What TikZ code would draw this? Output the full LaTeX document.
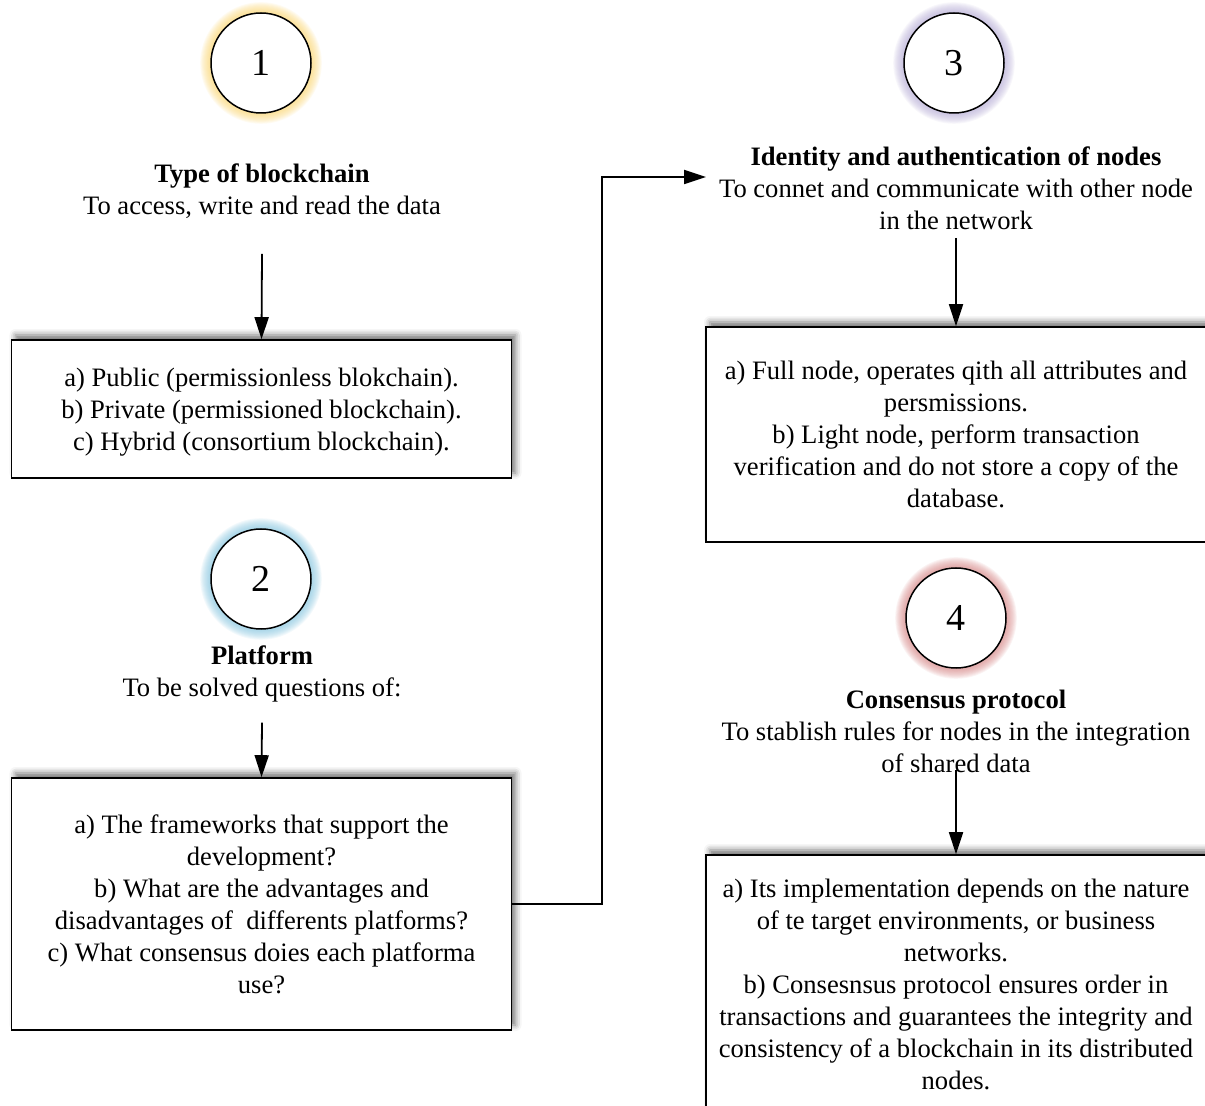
\documentclass[tikz,border=0pt]{standalone}
\usepackage{fontspec}
\setmainfont{Liberation Serif}
\usetikzlibrary{arrows.meta,shadows.blur}

\begin{document}
\begin{tikzpicture}[x=0.5pt,y=-0.5pt,
  every node/.style={font=\fontsize{13.3}{16}\selectfont},
  stepcirc/.style={circle, draw, line width=0.75pt, fill=white, minimum size=50pt,
    inner sep=0pt, font=\fontsize{19}{22}\selectfont},
  head/.style={align=center, inner sep=0pt},
  infobox/.style={draw, line width=0.8pt, fill=white, align=center, inner sep=0pt,
    minimum width=250pt,
    blur shadow={shadow xshift=2pt, shadow yshift=2.5pt, shadow blur radius=3pt, shadow opacity=55}},
  arr/.style={-{Triangle[length=11pt,width=7pt]}, line width=0.9pt}]

  % glow colours round the step numbers
  \definecolor{glowA}{RGB}{250,212,110}   % yellow
  \definecolor{glowB}{RGB}{130,195,222}   % blue
  \definecolor{glowC}{RGB}{180,170,212}   % lavender
  \definecolor{glowD}{RGB}{212,130,130}   % red

  % fixed page size, same as the reference
  \useasboundingbox (0,0) rectangle (1205,1106);

  % ---- soft glow behind each circle ----
  \foreach \cx/\cy/\col in {261/63/glowA,261/579/glowB,954/63/glowC,956/618/glowD}
    \foreach \k in {1,...,12}
      \fill[\col, opacity=0.09] (\cx,\cy) circle[radius={25pt+\k*0.45pt}];

  % ---- step 1 : type of blockchain ----
  \node[stepcirc] (n1) at (261,63) {1};
  \node[head] (typehead) at (262,191) {\textbf{Type of blockchain}\\To access, write and read the data};
  \node[infobox, minimum height=69pt] (types) at (261.5,409)
    {\rule{0pt}{12.5pt}a) Public (permissionless blokchain).\\
     b) Private (permissioned blockchain).\\
     c) Hybrid (consortium blockchain).};

  % ---- step 2 : platform ----
  \node[stepcirc] (n2) at (261,579) {2};
  \node[head] (plathead) at (262,674) {\textbf{Platform}\\To be solved questions of:};
  \node[infobox, minimum height=126pt] (plats) at (261.5,904)
    {a) The frameworks that support the\\
     development?\\
     b) What are the advantages and\\
     disadvantages of~ differents platforms?\\
     c) What consensus doies each platforma\\
     use?};

  % ---- step 3 : identity of nodes ----
  \node[stepcirc] (n3) at (954,63) {3};
  \node[head] (idhead) at (956,188) {\textbf{Identity and authentication of nodes}\\
    To connet and communicate with other node\\in the network};
  \node[infobox, minimum height=107.5pt] (idnodes) at (956,434.5)
    {a) Full node, operates qith all attributes and\\
     persmissions.\\
     b) Light node, perform transaction\\
     verification and do not store a copy of the\\
     database.};

  % ---- step 4 : consensus ----
  \node[stepcirc] (n4) at (956,618) {4};
  \node[head] (conshead) at (956,731) {\textbf{Consensus protocol}\\
    To stablish rules for nodes in the integration\\of shared data};
  \node[infobox, minimum height=129pt] (cons) at (956,984)
    {a) Its implementation depends on the nature\\
     of te target environments, or business\\
     networks.\\
     b) Consesnsus protocol ensures order in\\
     transactions and guarantees the integrity and\\
     consistency of a blockchain in its distributed\\
     nodes.};

  % ---- connectors ----
  \coordinate (idin) at (706,177);
  \draw[arr] ([yshift=-17.5pt]typehead.south) -- (types.north);
  \draw[arr] ([yshift=-10pt]plathead.south) -- (plats.north);
  \draw[arr] ([yshift=-4pt]idhead.south) -- (idnodes.north);
  \draw[arr] ([yshift=1.5pt]conshead.south) -- (cons.north);
  \draw[arr] (plats.east) -- ++(45pt,0) |- (idin);

\end{tikzpicture}
\end{document}
